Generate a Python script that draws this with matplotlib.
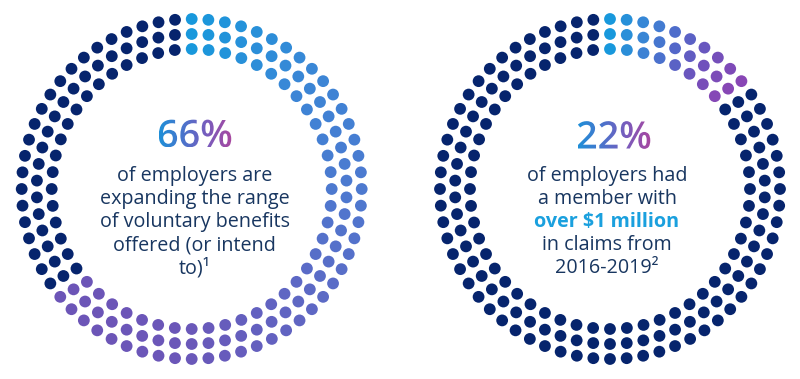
import matplotlib.pyplot as plt
import numpy as np
from matplotlib.colors import LinearSegmentedColormap
from matplotlib.font_manager import FontProperties
from matplotlib.patches import PathPatch
from matplotlib.textpath import TextPath
from matplotlib.transforms import Affine2D

# dots on each ring (outer, middle, inner) and how many are lit,
# counted clockwise from 12 o'clock
ring_dots = [64, 58, 52]
left_lit = [42, 38, 34]
right_lit = [10, 9, 8]

left_pct = "66%"
right_pct = "22%"
left_lines = ["of employers are", "expanding the range", "of voluntary benefits",
              "offered (or intend", "to)¹"]
right_lines = ["of employers had", "a member with", "over $1 million",
               "in claims from", "2016-2019²"]
right_bold_line = 2

navy = "#06246d"
text_col = "#183660"
hilite = "#1aa0de"
left_grad = ["#1898dc", "#3b86d6", "#4e78cf", "#5f66c3", "#6b56b8", "#6c55b7"]
right_grad = ["#1898dc", "#3a85d5", "#5466c8", "#7250bb", "#8846b5"]
pct_grad = ["#1f8fd8", "#4a74cc", "#7a5cbd", "#a8479f"]

radii = [170, 155, 140]
cy = 189

fig = plt.figure(figsize=(8, 3.79), dpi=100)
ax = fig.add_axes([0, 0, 1, 1])
ax.axis("off")


def draw_ring(cx, lit, colors):
    cmap = LinearSegmentedColormap.from_list("g", colors)
    span = (lit[0] - 1) * 2 * np.pi / ring_dots[0]
    for r, n, k in zip(radii, ring_dots, lit):
        ang = np.arange(n) * 2 * np.pi / n
        x = cx + r * np.sin(ang)
        y = cy - r * np.cos(ang)
        cols = [cmap(min(a / span, 1)) if i < k else navy for i, a in enumerate(ang)]
        ax.scatter(x, y, s=72, c=cols, linewidths=0, zorder=2)


def gradient_text(s, cx, cyt, height, colors):
    fp = FontProperties(family="Open Sans", weight="semibold")
    tp = TextPath((0, 0), s, size=height / 0.714, prop=fp)
    bb = tp.get_extents()
    tr = Affine2D().scale(1, -1).translate(cx - (bb.x0 + bb.x1) / 2, cyt + (bb.y0 + bb.y1) / 2)
    patch = PathPatch(tp, transform=tr + ax.transData, fc="none", ec="none")
    ax.add_patch(patch)
    w = bb.x1 - bb.x0
    hgt = bb.y1 - bb.y0
    grad = np.linspace(0, 1, 256).reshape(1, -1)
    im = ax.imshow(grad, cmap=LinearSegmentedColormap.from_list("t", colors),
                   extent=[cx - w / 2, cx + w / 2, cyt + hgt / 2, cyt - hgt / 2],
                   aspect="auto", zorder=3)
    im.set_clip_path(patch)


draw_ring(191.7, left_lit, left_grad)
draw_ring(610, right_lit, right_grad)

gradient_text(left_pct, 195, 133.5, 27, pct_grad)
gradient_text(right_pct, 614, 135, 27, pct_grad)

base = 181.5
step = 22.9
for i, line in enumerate(left_lines):
    ax.text(194.5, base + i * step, line, ha="center", va="baseline",
            fontsize=14.2, family="Open Sans", color=text_col)
for i, line in enumerate(right_lines):
    if i == right_bold_line:
        ax.text(607, base + i * step, line, ha="center", va="baseline",
                fontsize=14.2, family="Open Sans", weight="bold", color=hilite)
    else:
        ax.text(607, base + i * step, line, ha="center", va="baseline",
                fontsize=14.2, family="Open Sans", color=text_col)

ax.set_xlim(0, 800)
ax.set_ylim(379, 0)
fig.savefig("out.png", dpi=100, facecolor="white")
